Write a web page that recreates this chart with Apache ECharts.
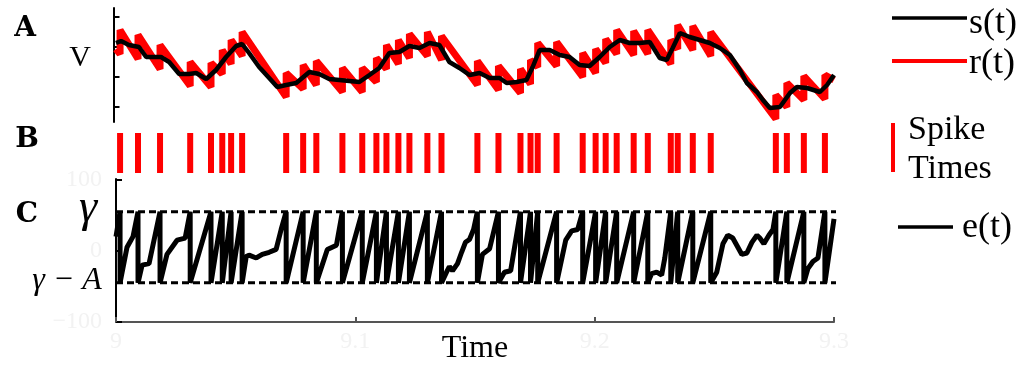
<!DOCTYPE html>
<html><head><meta charset="utf-8">
<script src="https://cdn.jsdelivr.net/npm/echarts@6/dist/echarts.min.js"></script>
<style>html,body{margin:0;padding:0;background:#fff}#c{width:1022px;height:366px}</style>
</head><body><div id="c"></div>
<script>
// ---- data ----
const spikeTimes = [9.0017,9.0092,9.0184,9.0310,9.0397,9.0444,9.0481,9.0527,9.0711,9.0782,9.0837,9.0946,
  9.1029,9.1088,9.1130,9.1180,9.1226,9.1301,9.1360,9.1510,9.1598,9.1690,9.1732,9.1762,9.1841,9.1950,
  9.2004,9.2046,9.2092,9.2163,9.2222,9.2318,9.2347,9.2410,9.2485,9.2757,9.2803,9.2874,9.2962];
// r(t) just before and just after each spike
const rBefore = [53,48,38,21,20,33,43,51,10,18,22,15,15,25,38,43,49,51,47,22,17,14,23,40,41,30,34,44,53,52,53,43,58,57,51,-12,0,7,8];
const rAfter  = [77,72,62,45,44,57,67,75,34,42,46,39,39,49,62,67,73,75,71,46,41,38,47,64,65,54,58,68,77,76,77,67,82,81,75,12,24,31,32];
const rStart = [9.0, 58];
const rEnd = [9.3, 27];
// s(t)
const sPoints = [[9.0000,64],[9.0021,66],[9.0054,62],[9.0096,60],[9.0126,50],[9.0151,50],[9.0188,50],[9.0222,45],
  [9.0264,33],[9.0305,33],[9.0335,34],[9.0377,28],[9.0418,37],[9.0460,50],[9.0502,61],[9.0527,63],[9.0556,54],
  [9.0598,40],[9.0640,29],[9.0674,20],[9.0711,22],[9.0753,24],[9.0808,35],[9.0849,33],[9.0891,28],[9.0933,27],
  [9.0975,26],[9.1017,25],[9.1059,32],[9.1100,39],[9.1142,54],[9.1184,55],[9.1226,61],[9.1268,59],[9.1310,64],
  [9.1351,62],[9.1393,45],[9.1435,39],[9.1477,32],[9.1519,34],[9.1561,29],[9.1603,29],[9.1632,24],[9.1674,25],
  [9.1715,27],[9.1741,40],[9.1770,57],[9.1812,57],[9.1854,52],[9.1895,50],[9.1937,42],[9.1979,41],[9.2021,50],
  [9.2063,60],[9.2105,67],[9.2146,64],[9.2188,64],[9.2230,65],[9.2272,49],[9.2301,47],[9.2326,59],[9.2356,74],
  [9.2397,70],[9.2439,67],[9.2481,64],[9.2523,59],[9.2565,52],[9.2607,37],[9.2636,24],[9.2678,15],[9.2703,7],
  [9.2732,-1],[9.2774,0],[9.2816,14],[9.2845,20],[9.2887,19],[9.2941,15],[9.2971,22],[9.3000,32]];
// e(t)
const ePoints = [[9.0000,20],[9.0017,55],[9.0017,-45],[9.0046,5],[9.0071,20],[9.0092,55],[9.0092,-45],[9.0109,-20],
  [9.0138,-18],[9.0184,55],[9.0184,-45],[9.0213,-5],[9.0255,15],[9.0289,18],[9.0310,55],[9.0310,-45],[9.0397,55],
  [9.0397,-45],[9.0444,55],[9.0444,-45],[9.0481,55],[9.0481,-45],[9.0527,55],[9.0527,-45],[9.0544,-8],[9.0556,-6],
  [9.0586,-10],[9.0611,-5],[9.0640,-2],[9.0669,2],[9.0690,30],[9.0711,55],[9.0711,-45],[9.0782,55],[9.0782,-45],
  [9.0837,55],[9.0837,-45],[9.0883,2],[9.0921,8],[9.0946,55],[9.0946,-45],[9.1029,55],[9.1029,-45],[9.1088,55],
  [9.1088,-45],[9.1130,55],[9.1130,-45],[9.1180,55],[9.1180,-45],[9.1226,55],[9.1226,-45],[9.1301,55],[9.1301,-45],
  [9.1360,55],[9.1360,-45],[9.1381,-30],[9.1393,-22],[9.1406,-28],[9.1427,-18],[9.1444,-2],[9.1460,12],[9.1477,16],
  [9.1494,30],[9.1510,55],[9.1510,-45],[9.1531,-5],[9.1561,3],[9.1598,55],[9.1598,-45],[9.1623,-30],[9.1649,-28],
  [9.1690,55],[9.1690,-45],[9.1732,55],[9.1732,-45],[9.1762,55],[9.1762,-45],[9.1841,55],[9.1841,-45],[9.1879,15],
  [9.1904,28],[9.1929,30],[9.1950,55],[9.1950,-45],[9.2004,55],[9.2004,-45],[9.2046,55],[9.2046,-45],[9.2092,55],
  [9.2092,-45],[9.2163,55],[9.2163,-45],[9.2222,55],[9.2222,-45],[9.2238,-32],[9.2259,-30],[9.2280,-34],[9.2293,-10],
  [9.2318,55],[9.2318,-45],[9.2347,55],[9.2347,-45],[9.2410,55],[9.2410,-45],[9.2485,55],[9.2485,-45],[9.2510,-30],
  [9.2536,10],[9.2556,22],[9.2577,18],[9.2615,-5],[9.2636,-3],[9.2657,12],[9.2678,22],[9.2690,18],[9.2707,10],
  [9.2728,22],[9.2745,30],[9.2757,55],[9.2757,-45],[9.2803,55],[9.2803,-45],[9.2874,55],[9.2874,-45],[9.2891,-25],
  [9.2912,-15],[9.2933,-10],[9.2962,55],[9.2962,-45],[9.3000,45]];
const gamma = 55;
const gammaMinusA = -45;
const thresholdEnd = 9.3184;
const aTicks = [0, 30, 60, 90];

// ---- build ----
const rPoints = [rStart];
spikeTimes.forEach((t, i) => { rPoints.push([t, rBefore[i]]); rPoints.push([t, rAfter[i]]); });
rPoints.push(rEnd);
const spikePoints = spikeTimes.map(t => [t, 0]);

const SERIF = "'Liberation Serif','DejaVu Serif',serif";
const GHOST = '#f2f2f2';
const chart = echarts.init(document.getElementById('c'), null, {renderer: 'canvas'});
function txt(x, y, text, font, fill, align) {
  return {type: 'text', x: x, y: y, silent: true,
    style: {text: text, font: font, fill: fill || '#000', align: align || 'center', textAlign: align || 'center',
      verticalAlign: 'middle', textVerticalAlign: 'middle'}};
}
chart.setOption({
  animation: false,
  backgroundColor: '#fff',
  grid: [
    {left: 116, right: 188, top: 8, height: 114, outerBoundsMode: 'none', containLabel: false},
    {left: 116, right: 188, top: 133, height: 40, outerBoundsMode: 'none', containLabel: false},
    {left: 116, right: 188, top: 179, height: 143, outerBoundsMode: 'none', containLabel: false}
  ],
  xAxis: [
    {type: 'value', gridIndex: 0, min: 9.0, max: 9.3, show: false},
    {type: 'value', gridIndex: 1, min: 9.0, max: 9.3, show: false},
    {type: 'value', gridIndex: 2, min: 9.0, max: 9.3, interval: 0.1,
      axisLine: {show: true, onZero: false, lineStyle: {color: '#555', width: 2}},
      axisTick: {show: true, inside: true, length: 5, lineStyle: {color: '#555', width: 2}},
      splitLine: {show: false},
      axisLabel: {show: true, color: GHOST, fontSize: 24, margin: 8, fontFamily: SERIF},
      name: 'Time', nameLocation: 'middle', nameGap: 27, nameMoveOverlap: false,
      nameTextStyle: {color: '#000', fontSize: 32, fontFamily: SERIF, verticalAlign: 'middle'}}
  ],
  yAxis: [
    {type: 'value', gridIndex: 0, min: -15, max: 99, offset: 2.5,
      axisLine: {show: true, lineStyle: {color: '#000', width: 2}},
      axisTick: {show: true, inside: true, length: 6, customValues: aTicks, lineStyle: {color: '#000', width: 2}},
      axisLabel: {show: false}, splitLine: {show: false}},
    {type: 'value', gridIndex: 1, min: -1, max: 1, show: false},
    {type: 'value', gridIndex: 2, min: -100, max: 101, interval: 100,
      axisLine: {show: true, onZero: false, lineStyle: {color: '#000', width: 2}},
      axisTick: {show: true, inside: true, length: 6, lineStyle: {color: '#000', width: 2}},
      axisLabel: {show: true, color: GHOST, fontSize: 24, margin: 14, fontFamily: SERIF,
        formatter: v => String(v).replace('-', '\u2212')},
      splitLine: {show: false}}
  ],
  series: [
    {name: 'r(t)', type: 'line', xAxisIndex: 0, yAxisIndex: 0, data: rPoints, symbol: 'none',
      lineStyle: {color: '#ff0000', width: 7}, z: 2},
    {name: 's(t)', type: 'line', xAxisIndex: 0, yAxisIndex: 0, data: sPoints, symbol: 'none',
      lineStyle: {color: '#000', width: 4.5}, z: 3},
    {name: 'Spike Times', type: 'scatter', xAxisIndex: 1, yAxisIndex: 1, data: spikePoints,
      symbol: 'rect', symbolSize: [6, 40], itemStyle: {color: '#ff0000', opacity: 1}},
    {name: 'gamma', type: 'line', xAxisIndex: 2, yAxisIndex: 2, clip: false, symbol: 'none',
      data: [[9.0, gamma], [thresholdEnd, gamma]], lineStyle: {color: '#000', width: 3, type: [7, 4]}, z: 2},
    {name: 'gammaA', type: 'line', xAxisIndex: 2, yAxisIndex: 2, clip: false, symbol: 'none',
      data: [[9.0, gammaMinusA], [thresholdEnd, gammaMinusA]], lineStyle: {color: '#000', width: 3, type: [7, 4]}, z: 2},
    {name: 'e(t)', type: 'line', xAxisIndex: 2, yAxisIndex: 2, data: ePoints, symbol: 'none',
      lineStyle: {color: '#000', width: 5}, z: 3}
  ],
  graphic: [
    txt(25, 29, 'A', "bold 28px 'DejaVu Serif',serif"),
    txt(27, 140, 'B', "bold 28px 'DejaVu Serif',serif"),
    txt(27, 215, 'C', "bold 28px 'DejaVu Serif',serif"),
    txt(80, 58, 'V', "30px " + SERIF),
    txt(88, 209, '\u03b3', "italic 46px " + SERIF),
    txt(67, 281, '\u03b3 \u2212 A', "italic 32px " + SERIF),
    {type: 'line', silent: true, shape: {x1: 892, y1: 18, x2: 967, y2: 18}, style: {stroke: '#000', lineWidth: 3.5}},
    txt(969, 24, 's(t)', "36px " + SERIF, '#000', 'left'),
    {type: 'line', silent: true, shape: {x1: 892, y1: 61, x2: 967, y2: 61}, style: {stroke: '#ff0000', lineWidth: 4}},
    txt(969, 64, 'r(t)', "36px " + SERIF, '#000', 'left'),
    {type: 'rect', silent: true, shape: {x: 891, y: 123, width: 4, height: 49}, style: {fill: '#ff0000'}},
    txt(908, 130, 'Spike', "34px " + SERIF, '#000', 'left'),
    txt(908, 169, 'Times', "34px " + SERIF, '#000', 'left'),
    {type: 'line', silent: true, shape: {x1: 898, y1: 227, x2: 953, y2: 227}, style: {stroke: '#000', lineWidth: 3.5}},
    txt(962, 228, 'e(t)', "36px " + SERIF, '#000', 'left')
  ]
});
</script></body></html>
